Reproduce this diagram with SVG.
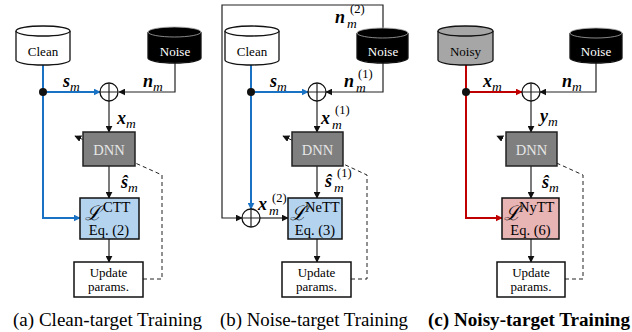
<svg xmlns="http://www.w3.org/2000/svg" width="632" height="332" viewBox="0 0 632 332" font-family="Liberation Serif, Times New Roman, DejaVu Serif, serif">
<defs>
<style>
.cyl{font-size:13px;text-anchor:middle}
.dnn{fill:#7f7f7f;stroke:#222;stroke-width:1.5}
.dnnt{font-size:14.5px;fill:#e6e6e6;text-anchor:middle}
.box{stroke:#111;stroke-width:1.5}
.upd{fill:#fff;stroke:#111;stroke-width:1.5}
.updt{font-size:13px;text-anchor:middle}
.ln{fill:none;stroke:#222;stroke-width:1.2}
.blue{fill:none;stroke:#1a72c4;stroke-width:2}
.red{fill:none;stroke:#c00000;stroke-width:2}
.dash{fill:none;stroke:#222;stroke-width:1;stroke-dasharray:4 3}
.sum{fill:#fff;stroke:#111;stroke-width:1.3}
.m{font-style:italic;font-weight:bold;font-size:18px}
.sub{font-style:italic;font-weight:normal;font-size:13.5px}
.sup{font-style:normal;font-weight:normal;font-size:12.5px}
.L{font-style:italic;font-size:20px}
.lsup{font-size:14.5px}
.eq{font-size:14.5px;text-anchor:middle}
.cap{font-size:18.5px}
</style>
<marker id="ak" viewBox="0 0 10 10" refX="9" refY="5" markerWidth="7" markerHeight="7" markerUnits="userSpaceOnUse" orient="auto"><path d="M0,0L10,5L0,10z" fill="#111"/></marker>
<marker id="ab" viewBox="0 0 10 10" refX="9" refY="5" markerWidth="7" markerHeight="7" markerUnits="userSpaceOnUse" orient="auto"><path d="M0,0L10,5L0,10z" fill="#1a72c4"/></marker>
<marker id="ar" viewBox="0 0 10 10" refX="9" refY="5" markerWidth="7" markerHeight="7" markerUnits="userSpaceOnUse" orient="auto"><path d="M0,0L10,5L0,10z" fill="#c00000"/></marker>
</defs>
<rect width="632" height="332" fill="#fff"/>

<g id="connectors">
<path class="ln" d="M175,63V92H119" marker-end="url(#ak)"/>
<path class="ln" d="M109,101V132" marker-end="url(#ak)"/>
<path class="ln" d="M109,166V198" marker-end="url(#ak)"/>
<path class="ln" d="M109,239V262" marker-end="url(#ak)"/>
<path class="blue" d="M43,65V218H80" marker-end="url(#ab)"/>
<path class="blue" d="M43,92H100" marker-end="url(#ab)"/>
<path class="dash" d="M143,279H162V175L75,136" marker-end="url(#ak)"/>
<path class="ln" d="M383,62V92H326" marker-end="url(#ak)"/>
<path class="ln" d="M383,28V5H222V218H242" marker-end="url(#ak)"/>
<path class="ln" d="M260,218H288" marker-end="url(#ak)"/>
<path class="ln" d="M317,101V132" marker-end="url(#ak)"/>
<path class="ln" d="M317,166V198" marker-end="url(#ak)"/>
<path class="ln" d="M317,239V262" marker-end="url(#ak)"/>
<path class="blue" d="M251,65V209" marker-end="url(#ab)"/>
<path class="blue" d="M251,92H308" marker-end="url(#ab)"/>
<path class="dash" d="M351,279H367V175L283,136" marker-end="url(#ak)"/>
<path class="ln" d="M596,63V92H540" marker-end="url(#ak)"/>
<path class="ln" d="M531,101V132" marker-end="url(#ak)"/>
<path class="ln" d="M531,166V198" marker-end="url(#ak)"/>
<path class="ln" d="M531,239V262" marker-end="url(#ak)"/>
<path class="red" d="M466,65V218H502" marker-end="url(#ar)"/>
<path class="red" d="M466,92H522" marker-end="url(#ar)"/>
<path class="dash" d="M565,279H583V175L497,136" marker-end="url(#ak)"/>
<circle cx="43" cy="92" r="4" fill="#111"/>
<circle cx="251" cy="92" r="4" fill="#111"/>
<circle cx="466" cy="92" r="4" fill="#111"/>
</g>

<g id="clean-a">
<path d="M16,31V60A27,5 0 0 0 70,60V31" fill="#fff" stroke="#111" stroke-width="1.3"/>
<ellipse cx="43" cy="31" rx="27" ry="5" fill="#fff" stroke="#111" stroke-width="1.3"/>
<text class="cyl" x="43" y="56">Clean</text>
</g>
<g id="noise-a">
<path d="M148,32V58A26.5,5 0 0 0 201,58V32" fill="#000" stroke="#111" stroke-width="1.3"/>
<ellipse cx="174.5" cy="32" rx="26.5" ry="5" fill="#000" stroke="#aaa" stroke-width="0.8"/>
<text class="cyl" x="175" y="56" fill="#fff">Noise</text>
</g>
<g id="sum-a"><circle class="sum" cx="109" cy="92" r="9"/><path class="ln" d="M100,92H118M109,83V101"/></g>
<g id="dnn-a"><rect class="dnn" x="83" y="132" width="52" height="34"/><text class="dnnt" x="109" y="155">DNN</text></g>
<g id="loss-a"><rect class="box" x="80" y="198" width="59" height="41" fill="#b4d3ef"/>
<text class="L" x="85" y="220">ℒ</text><text class="lsup" x="103" y="212">CTT</text>
<text class="eq" x="109" y="235">Eq. (2)</text></g>
<g id="upd-a"><rect class="upd" x="74" y="262" width="69" height="35"/><text class="updt" x="108.5" y="276.5">Update</text><text class="updt" x="108.5" y="291">params.</text></g>
<g id="labels-a">
<text class="m" x="63" y="87">s<tspan class="sub" dy="4">m</tspan></text>
<text class="m" x="143" y="87">n<tspan class="sub" dy="4">m</tspan></text>
<text class="m" x="117" y="124">x<tspan class="sub" dy="4">m</tspan></text>
<text class="m" x="121" y="188">ŝ<tspan class="sub" dy="4">m</tspan></text>
</g>
<text class="cap" x="13" y="326" textLength="189" lengthAdjust="spacingAndGlyphs">(a) Clean-target Training</text>

<g id="clean-b">
<path d="M225,31V60A27,5 0 0 0 279,60V31" fill="#fff" stroke="#111" stroke-width="1.3"/>
<ellipse cx="252" cy="31" rx="27" ry="5" fill="#fff" stroke="#111" stroke-width="1.3"/>
<text class="cyl" x="252" y="56">Clean</text>
</g>
<g id="noise-b">
<path d="M357,33V58A25.5,5 0 0 0 408,58V33" fill="#000" stroke="#111" stroke-width="1.3"/>
<ellipse cx="382.5" cy="33" rx="25.5" ry="5" fill="#000" stroke="#aaa" stroke-width="0.8"/>
<text class="cyl" x="383" y="56" fill="#fff">Noise</text>
</g>
<g id="sum-b1"><circle class="sum" cx="317" cy="92" r="9"/><path class="ln" d="M308,92H326M317,83V101"/></g>
<g id="sum-b2"><circle class="sum" cx="251" cy="218" r="9"/><path class="ln" d="M242,218H260M251,209V227"/></g>
<g id="dnn-b"><rect class="dnn" x="292" y="132" width="51" height="34"/><text class="dnnt" x="317.5" y="155">DNN</text></g>
<g id="loss-b"><rect class="box" x="288" y="198" width="54" height="41" fill="#b4d3ef"/>
<text class="L" x="290" y="220">ℒ</text><text class="lsup" x="305" y="212">NeTT</text>
<text class="eq" x="315" y="235">Eq. (3)</text></g>
<g id="upd-b"><rect class="upd" x="282" y="262" width="69" height="35"/><text class="updt" x="316.5" y="276.5">Update</text><text class="updt" x="316.5" y="291">params.</text></g>
<g id="labels-b">
<text class="m" x="270" y="87">s<tspan class="sub" dy="4">m</tspan></text>
<text class="m" x="344" y="87">n<tspan class="sub" x="356" y="92">m</tspan><tspan class="sup" x="358" y="78">(1)</tspan></text>
<text class="m" x="335" y="23">n<tspan class="sub" x="347" y="28">m</tspan><tspan class="sup" x="350" y="13">(2)</tspan></text>
<text class="m" x="321" y="124">x<tspan class="sub" x="332" y="129">m</tspan><tspan class="sup" x="335" y="114">(1)</tspan></text>
<text class="m" x="325" y="187">ŝ<tspan class="sub" x="334" y="192">m</tspan><tspan class="sup" x="337" y="177">(1)</tspan></text>
<text class="m" x="258" y="210">x<tspan class="sub" x="269" y="215">m</tspan><tspan class="sup" x="272" y="202">(2)</tspan></text>
</g>
<text class="cap" x="220" y="326" textLength="188" lengthAdjust="spacingAndGlyphs">(b) Noise-target Training</text>

<g id="noisy-c">
<path d="M438,31V60A27.5,5 0 0 0 493,60V31" fill="#a6a6a6" stroke="#111" stroke-width="1.3"/>
<ellipse cx="465.5" cy="31" rx="27.5" ry="5" fill="#a6a6a6" stroke="#111" stroke-width="1.3"/>
<text class="cyl" x="465.5" y="56">Noisy</text>
</g>
<g id="noise-c">
<path d="M570,33V58A26,5 0 0 0 622,58V33" fill="#000" stroke="#111" stroke-width="1.3"/>
<ellipse cx="596" cy="33" rx="26" ry="5" fill="#000" stroke="#aaa" stroke-width="0.8"/>
<text class="cyl" x="596" y="56" fill="#fff">Noise</text>
</g>
<g id="sum-c"><circle class="sum" cx="531" cy="92" r="9"/><path class="ln" d="M522,92H540M531,83V101"/></g>
<g id="dnn-c"><rect class="dnn" x="506" y="132" width="51" height="34"/><text class="dnnt" x="531.5" y="155">DNN</text></g>
<g id="loss-c"><rect class="box" x="502" y="198" width="57" height="41" fill="#e8b4b4"/>
<text class="L" x="504" y="220">ℒ</text><text class="lsup" x="519" y="212">NyTT</text>
<text class="eq" x="530.5" y="235">Eq. (6)</text></g>
<g id="upd-c"><rect class="upd" x="497" y="262" width="68" height="35"/><text class="updt" x="531" y="276.5">Update</text><text class="updt" x="531" y="291">params.</text></g>
<g id="labels-c">
<text class="m" x="483" y="87">x<tspan class="sub" dy="4">m</tspan></text>
<text class="m" x="562" y="87">n<tspan class="sub" dy="4">m</tspan></text>
<text class="m" x="540" y="122">y<tspan class="sub" dy="4">m</tspan></text>
<text class="m" x="542" y="188">ŝ<tspan class="sub" dy="4">m</tspan></text>
</g>
<text class="cap" x="428" y="326" font-weight="bold" textLength="202" lengthAdjust="spacingAndGlyphs">(c) Noisy-target Training</text>
</svg>
